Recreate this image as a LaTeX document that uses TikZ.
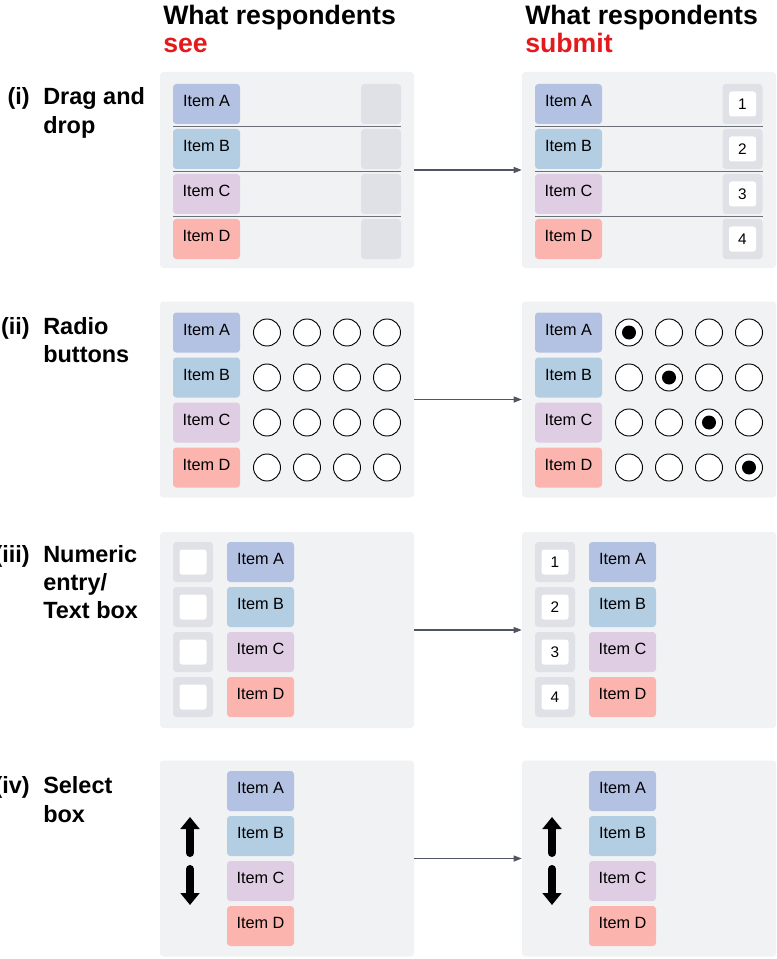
\documentclass[tikz,border=0pt]{standalone}
\usepackage{fontspec}
\setmainfont{Liberation Sans}
\usetikzlibrary{arrows.meta}
\definecolor{colA}{HTML}{B3C2E3}
\definecolor{colB}{HTML}{B3CEE3}
\definecolor{colC}{HTML}{DFCDE4}
\definecolor{colD}{HTML}{FBB4AE}
\definecolor{panelbg}{HTML}{F1F2F4}
\definecolor{slotbg}{HTML}{DFE1E6}
\definecolor{seered}{HTML}{E3191C}
\definecolor{linkgray}{HTML}{4F5661}
\definecolor{sepgray}{HTML}{6B6F77}
\tikzstyle{panel}=[rectangle,rounded corners=2.5pt,fill=panelbg,minimum width=190.5pt,minimum height=147pt,inner sep=0pt]
\tikzstyle{item}=[rectangle,rounded corners=2.5pt,minimum width=50.25pt,minimum height=30pt,inner sep=0pt,text height=8.7pt,text depth=4.5pt,font=\fontsize{12.2}{14}\selectfont]
\tikzstyle{slot}=[rectangle,rounded corners=2.5pt,fill=slotbg,minimum size=30pt,inner sep=0pt]
\tikzstyle{entry}=[rectangle,rounded corners=2pt,fill=white,minimum width=20.25pt,minimum height=18.75pt,inner sep=0pt,font=\fontsize{11.5}{13}\selectfont]
\tikzstyle{radio}=[circle,draw=black,line width=0.7pt,fill=white,minimum size=20.25pt,inner sep=0pt]
\tikzstyle{dot}=[circle,fill=black,minimum size=10.5pt,inner sep=0pt]
\tikzstyle{heading}=[anchor=base west,inner sep=0pt,font=\fontsize{20}{24}\selectfont\bfseries]
\tikzstyle{rowlabel}=[anchor=base west,inner sep=0pt,font=\fontsize{17.6}{21}\selectfont\bfseries]
\tikzstyle{rownum}=[rowlabel,anchor=base east]
\tikzstyle{link}=[draw=linkgray,line width=0.8pt,-{Triangle[length=6pt,width=4.5pt]}]
\tikzstyle{sep}=[draw=sepgray,line width=1pt]
\tikzstyle{mover}=[line width=6pt,line cap=round,-{Triangle[length=9pt,width=14pt]}]

\begin{document}
\begin{tikzpicture}[x=0.75pt,y=-0.75pt]
  \useasboundingbox (0,0) rectangle (777,959);
  % column headings
  \node[heading] (seeA) at (163,25) {What respondents};
  \node[heading,text=seered] (seeB) at (163,53) {see};
  \node[heading] (subA) at (525,25) {What respondents};
  \node[heading,text=seered] (subB) at (525,53) {submit};

  % row labels
  \node[rownum] (n1) at (30,105) {(i)};
  \node[rowlabel] (l1a) at (43,105) {Drag and};
  \node[rowlabel] (l1b) at (43,134) {drop};
  \node[rownum] (n2) at (30,334) {(ii)};
  \node[rowlabel] (l2a) at (43,334) {Radio};
  \node[rowlabel] (l2b) at (43,362) {buttons};
  \node[rownum] (n3) at (30,562) {(iii)};
  \node[rowlabel] (l3a) at (43,562) {Numeric};
  \node[rowlabel] (l3b) at (43,590) {entry/};
  \node[rowlabel] (l3c) at (43,618) {Text box};
  \node[rownum] (n4) at (30,793) {(iv)};
  \node[rowlabel] (l4a) at (43,793) {Select};
  \node[rowlabel] (l4b) at (43,822) {box};

  % panels
  \node[panel] (see1) at (287,170) {};
  \node[panel] (sub1) at (649,170) {};
  \node[panel] (see2) at (287,399.5) {};
  \node[panel] (sub2) at (649,399.5) {};
  \node[panel] (see3) at (287,630) {};
  \node[panel] (sub3) at (649,630) {};
  \node[panel] (see4) at (287,858.5) {};
  \node[panel] (sub4) at (649,858.5) {};
  \draw[link] (see1) -- (sub1);
  \draw[link] (see2) -- (sub2);
  \draw[link] (see3) -- (sub3);
  \draw[link] (see4) -- (sub4);

  % (i) drag and drop
  \foreach \i in {0,1,2} {
    \draw[sep] (173,126.5+45*\i) -- (401,126.5+45*\i);
    \draw[sep] (535,126.5+45*\i) -- (763,126.5+45*\i);
  }
  \foreach \c/\n [count=\i from 0] in {A/1,B/2,C/3,D/4} {
    \node[item,fill=col\c] (see1\c) at (206.5,104+45*\i) {Item \c};
    \node[slot] (see1s\c) at (381,104+45*\i) {};
    \node[item,fill=col\c] (sub1\c) at (568.5,104+45*\i) {Item \c};
    \node[slot] (sub1s\c) at (742.5,104+45*\i) {};
    \node[entry] (sub1n\c) at (sub1s\c) {\n};
  }

  % (ii) radio buttons
  \foreach \c [count=\i from 0] in {A,B,C,D} {
    \node[item,fill=col\c] (see2\c) at (206.5,332.5+45*\i) {Item \c};
    \node[item,fill=col\c] (sub2\c) at (568.5,332.5+45*\i) {Item \c};
    \foreach \j in {0,...,3} {
      \node[radio] (see2\c\j) at (267+40*\j,332.5+45*\i) {};
      \node[radio] (sub2\c\j) at (629+40*\j,332.5+45*\i) {};
    }
    \node[dot] (pick\c) at (sub2\c\i) {};
  }

  % (iii) numeric entry
  \foreach \c/\n [count=\i from 0] in {A/1,B/2,C/3,D/4} {
    \node[slot] (see3s\c) at (193,562+45*\i) {};
    \node[entry] (see3n\c) at (see3s\c) {};
    \node[item,fill=col\c] (see3\c) at (260.5,562+45*\i) {Item \c};
    \node[slot] (sub3s\c) at (555,562+45*\i) {};
    \node[entry] (sub3n\c) at (sub3s\c) {\n};
    \node[item,fill=col\c] (sub3\c) at (622.5,562+45*\i) {Item \c};
  }

  % (iv) select box
  \foreach \c [count=\i from 0] in {A,B,C,D} {
    \node[item,fill=col\c] (see4\c) at (260.5,791+45*\i) {Item \c};
    \node[item,fill=col\c] (sub4\c) at (622.5,791+45*\i) {Item \c};
  }
  \coordinate (see4u0) at (190,853);
  \coordinate (see4u1) at (190,817);
  \coordinate (see4d0) at (190,869);
  \coordinate (see4d1) at (190,905);
  \coordinate (sub4u0) at (552,853);
  \coordinate (sub4u1) at (552,817);
  \coordinate (sub4d0) at (552,869);
  \coordinate (sub4d1) at (552,905);
  \draw[mover] (see4u0) -- (see4u1);
  \draw[mover] (see4d0) -- (see4d1);
  \draw[mover] (sub4u0) -- (sub4u1);
  \draw[mover] (sub4d0) -- (sub4d1);
\end{tikzpicture}
\end{document}
